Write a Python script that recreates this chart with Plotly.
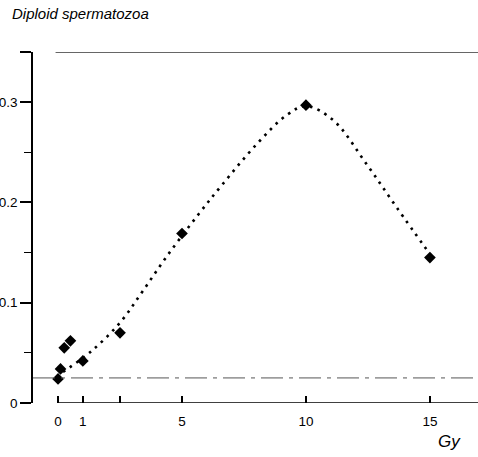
import plotly.graph_objects as go

# Measured points (dose in Gy, frequency of diploid spermatozoa)
dose = [0, 0.1, 0.25, 0.5, 1, 2.5, 5, 10, 15]
freq = [0.024, 0.034, 0.055, 0.062, 0.042, 0.070, 0.169, 0.297, 0.145]

# Fitted (dotted) curve
curve_x = [0.2, 1.36, 2.53, 3.4, 4.38, 5.66, 6.6, 8.01, 9.22, 10, 11.1, 12.45, 13.66, 15.07]
curve_y = [0.031, 0.052, 0.081, 0.111, 0.146, 0.188, 0.217, 0.258, 0.287, 0.296, 0.282, 0.238, 0.195, 0.146]

# Reference levels
top_level = 0.35
control_level = 0.025

x_tickvals = [0, 1, 2.5, 5, 10, 15]
x_ticktext = ["0", "1", "", "5", "10", "15"]
y_tickvals = [0, 0.1, 0.2, 0.3, 0.35]
y_ticktext = ["0", "0.1", "0.2", "0.3", ""]

XMIN, XMAX = -1.01, 16.94
FONT = "Liberation Sans, Arial, sans-serif"

fig = go.Figure()

fig.add_trace(go.Scatter(
    x=curve_x, y=curve_y, mode="lines",
    line=dict(color="black", width=2.6, dash="2.6px,5.4px", shape="spline", smoothing=1.0),
    hoverinfo="skip", showlegend=False,
))
fig.add_trace(go.Scatter(
    x=dose, y=freq, mode="markers",
    marker=dict(symbol="diamond", size=9, color="black"),
    showlegend=False, cliponaxis=False,
))

# x axis baseline starting at dose 0
fig.add_shape(type="line", xref="x", yref="y", x0=0, x1=XMAX, y0=0, y1=0,
              line=dict(color="black", width=1.5))
# upper reference line
fig.add_shape(type="line", xref="x", yref="y", x0=-0.1, x1=XMAX, y0=top_level, y1=top_level,
              line=dict(color="#333333", width=1.5))
# control level dash-dot line
fig.add_shape(type="line", xref="x", yref="y", x0=XMIN, x1=XMAX, y0=control_level, y1=control_level,
              line=dict(color="#555555", width=1, dash="22px,6px,4px,6px"))

fig.add_annotation(text="<i>Diploid spermatozoa</i>", xref="paper", yref="paper",
                   x=-0.052, y=1.111, xanchor="left", yanchor="middle", showarrow=False,
                   font=dict(family=FONT, size=15, color="black"))
fig.add_annotation(text="<i>Gy</i>", xref="paper", yref="paper",
                   x=0.935, y=-0.11, xanchor="center", yanchor="middle", showarrow=False,
                   font=dict(family=FONT, size=17, color="black"))

fig.update_layout(
    width=478, height=457,
    margin=dict(l=33, r=0, t=52, b=54, autoexpand=False),
    paper_bgcolor="white", plot_bgcolor="white",
    font=dict(family=FONT, size=13.5, color="black"),
    xaxis=dict(range=[XMIN, XMAX], showgrid=False, zeroline=False, showline=False,
               automargin=False,
               tickmode="array", tickvals=x_tickvals, ticktext=x_ticktext,
               ticks="inside", ticklen=7, tickwidth=1.5, tickcolor="black",
               ticklabelstandoff=8),
    yaxis=dict(range=[0, top_level], showgrid=False, zeroline=False,
               automargin=False,
               showline=True, linecolor="black", linewidth=1.5,
               tickmode="array", tickvals=y_tickvals, ticktext=y_ticktext,
               ticks="outside", ticklen=11, tickwidth=1.5, tickcolor="black",
               minor=dict(tickvals=[0.05, 0.15, 0.25], ticks="outside", ticklen=7,
                          tickwidth=1.2, tickcolor="black")),
)

fig.write_html("out.html", config={"displayModeBar": False},
               post_script="document.body.style.margin='0px';")
